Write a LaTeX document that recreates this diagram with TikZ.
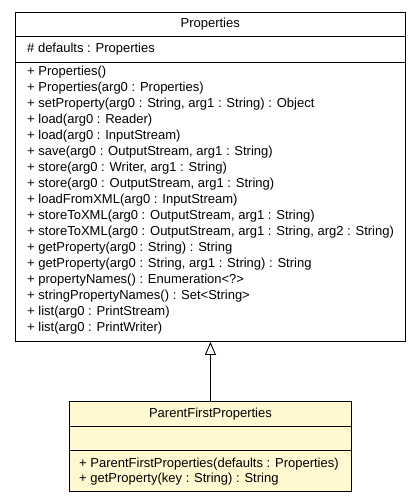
\documentclass[tikz,border=0pt]{standalone}
\usepackage{fontspec}
\setmainfont{Liberation Sans}
\usetikzlibrary{positioning,arrows.meta}
\definecolor{classfill}{RGB}{255,248,208}

\begin{document}
\begin{tikzpicture}[x=1bp,y=-1bp,
  classbox/.style = {draw=black, line width=0.9bp, anchor=north west, inner sep=0},
  member/.style = {anchor=base west, inner sep=0, font=\fontsize{13bp}{16bp}\selectfont}]
\useasboundingbox (0,0) rectangle (419,501);
% parent class
\node[classbox, minimum width=389.5bp, minimum height=329bp] (props) at (15,12) {};
\draw[line width=0.9bp] (props.north west) ++(0,24) -- ++(389.5,0);
\draw[line width=0.9bp] (props.north west) ++(0,50) -- ++(389.5,0);
\node[member, anchor=base] (propsname) at (props.north |- 0,28) {Properties};
\node[member] (propsattr) at (27,53) {\# defaults : Properties};
\foreach \m [count=\i from 0] in {{+ Properties()}, {+ Properties(arg0 : Properties)},
    {+ setProperty(arg0 : String, arg1 : String) : Object}, {+ load(arg0 : Reader)},
    {+ load(arg0 : InputStream)}, {+ save(arg0 : OutputStream, arg1 : String)},
    {+ store(arg0 : Writer, arg1 : String)}, {+ store(arg0 : OutputStream, arg1 : String)},
    {+ loadFromXML(arg0 : InputStream)}, {+ storeToXML(arg0 : OutputStream, arg1 : String)},
    {+ storeToXML(arg0 : OutputStream, arg1 : String, arg2 : String)},
    {+ getProperty(arg0 : String) : String}, {+ getProperty(arg0 : String, arg1 : String) : String},
    {+ propertyNames() : Enumeration<?>}, {+ stringPropertyNames() : Set<String>},
    {+ list(arg0 : PrintStream)}, {+ list(arg0 : PrintWriter)}}
    \node[member] (pm\i) at (27,75.5+16*\i) {\m};
% child class
\node[classbox, fill=classfill, minimum width=282bp, minimum height=90bp] (pfp) at (69,401) {};
\draw[line width=0.9bp] (pfp.north west) ++(0,25.5) -- ++(282,0);
\draw[line width=0.9bp] (pfp.north west) ++(0,49.5) -- ++(282,0);
\node[member, anchor=base] (pfpname) at (pfp.north |- 0,417) {ParentFirstProperties};
\node[member] (pfpm0) at (79,467) {+ ParentFirstProperties(defaults : Properties)};
\node[member] (pfpm1) at (79,482) {+ getProperty(key : String) : String};
% generalization
\draw[-{Triangle[open,length=13bp,width=11bp]}, line width=0.9bp] (pfp.north) -- (pfp.north |- props.south);
\end{tikzpicture}
\end{document}
